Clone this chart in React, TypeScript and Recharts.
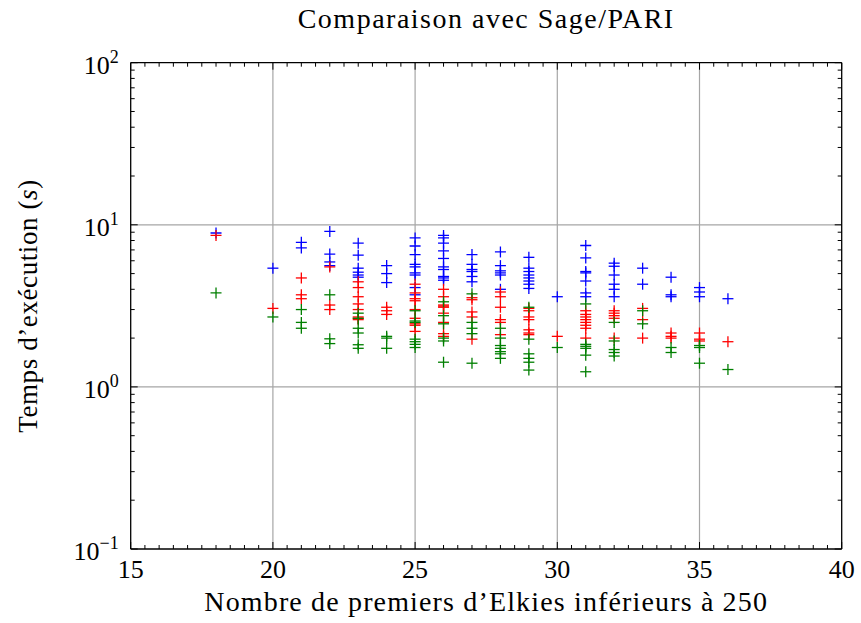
import { ReferenceLine, Scatter, ScatterChart, XAxis, YAxis } from "recharts";

// runs grouped by number of Elkies primes: [x, times...]
const blueRuns: [number, number[]][] = [
  [18, [8.9]],
  [20, [5.4]],
  [21, [7.8, 7.2]],
  [22, [9.1, 6.6, 5.9, 5.6]],
  [23, [7.7, 6.5, 5.4, 5.1, 4.9, 4.75]],
  [24, [5.6, 5.0, 4.4]],
  [25, [8.3, 7.4, 6.55, 5.7, 5.5, 5.05, 4.9, 4.1, 3.7]],
  [26, [8.6, 8.3, 7.7, 6.9, 6.2, 5.5, 5.3, 4.8, 4.7, 4.55]],
  [27, [6.55, 5.7, 5.3, 5.15, 4.8, 4.45]],
  [28, [6.8, 5.6, 5.2, 5.05, 4.9, 4.0]],
  [29, [6.3, 5.4, 5.15, 4.9, 4.7, 4.5, 4.3, 4.05]],
  [30, [3.6]],
  [31, [7.45, 6.25, 5.15, 5.05, 4.5, 3.8, 3.6]],
  [32, [5.8, 5.55, 4.9, 4.3, 4.0, 3.6]],
  [33, [5.4, 4.3]],
  [34, [4.75, 3.7, 3.6]],
  [35, [4.1, 3.85, 3.6]],
  [36, [3.5]],
];

const redRuns: [number, number[]][] = [
  [18, [8.6]],
  [20, [3.05]],
  [21, [4.7, 3.7, 3.5]],
  [22, [5.5, 3.2, 3.0]],
  [23, [4.45, 4.1, 3.6, 3.25, 3.0, 2.7, 2.65, 2.6]],
  [24, [3.1, 2.95, 2.8]],
  [25, [4.3, 3.8, 3.5, 3.4, 3.0, 2.65, 2.45, 2.4, 2.2]],
  [26, [4.0, 3.6, 3.2, 3.15, 3.1, 2.85, 2.5, 2.13, 2.05]],
  [27, [3.55, 3.45, 2.9, 2.7, 1.97]],
  [28, [3.85, 3.6, 3.1, 2.6, 2.5, 2.1]],
  [29, [3.05, 2.95, 2.7, 2.6, 2.25, 2.15, 2.1]],
  [30, [2.05]],
  [31, [2.95, 2.8, 2.7, 2.6, 2.5, 2.4, 2.3, 2.0]],
  [32, [2.95, 2.85, 2.75, 2.65, 2.0]],
  [33, [3.05, 2.6, 2.0]],
  [34, [2.15, 2.05, 2.0]],
  [35, [2.15, 1.97, 1.92]],
  [36, [1.9]],
];

const greenRuns: [number, number[]][] = [
  [18, [3.8]],
  [20, [2.7]],
  [21, [3.0, 2.5, 2.3]],
  [22, [3.7, 1.98, 1.85]],
  [23, [2.85, 2.65, 2.3, 2.15, 1.82, 1.73]],
  [24, [2.05, 2.0, 1.73]],
  [25, [2.95, 2.55, 2.5, 1.97, 1.9, 1.83, 1.75]],
  [26, [3.35, 2.75, 2.45, 2.0, 1.92, 1.42]],
  [27, [3.75, 2.5, 2.3, 2.13, 1.4]],
  [28, [2.3, 2.0, 1.8, 1.73, 1.65, 1.6, 1.5]],
  [29, [3.1, 1.97, 1.6, 1.5, 1.42, 1.27]],
  [30, [1.75]],
  [31, [3.25, 1.83, 1.78, 1.73, 1.57, 1.24]],
  [32, [2.5, 1.92, 1.7, 1.63, 1.55]],
  [33, [2.95, 2.45]],
  [34, [1.75, 1.63]],
  [35, [1.8, 1.75, 1.4]],
  [36, [1.28]],
];

const xTickLabels = [15, 20, 25, 30, 35, 40];
const yExponents = [-1, 0, 1, 2];

const FONT = "'Liberation Serif', 'Times New Roman', serif";

const flatten = (runs: [number, number[]][]) =>
  runs.flatMap(([x, ys]) => ys.map((y) => ({ x, y })));

const xMajor = xTickLabels;
const xAll: number[] = [];
for (let v = 15; v <= 40; v += 0.5) xAll.push(v);

const yMajor = yExponents.map((e) => Math.pow(10, e));
const yAll: number[] = [];
yExponents.forEach((e, i) => {
  if (i === yExponents.length - 1) {
    yAll.push(Math.pow(10, e));
    return;
  }
  for (let k = 1; k <= 9; k++) yAll.push(k * Math.pow(10, e));
});

const isXMajor = (v: number) => xMajor.includes(v);
const isYMajor = (v: number) =>
  yMajor.some((m) => Math.abs(m - v) / m < 1e-9);

function Plus(color: string) {
  return (props: any) => {
    const { cx, cy } = props;
    return (
      <g stroke={color} strokeWidth={1.3}>
        <line x1={cx - 5.5} x2={cx + 5.5} y1={cy} y2={cy} />
        <line x1={cx} x2={cx} y1={cy - 5.5} y2={cy + 5.5} />
      </g>
    );
  };
}

const labelStyle = { fontFamily: FONT, fontSize: 26 };

function BottomTick({ x, y, payload }: any) {
  const v = payload.value;
  const major = isXMajor(v);
  return (
    <g>
      <line x1={x} x2={x} y1={y} y2={y - (major ? 7 : 4)} stroke="#000" />
      {major && (
        <text
          x={x}
          y={y + 29}
          textAnchor="middle"
          style={labelStyle}
          fill="#000"
        >
          {v}
        </text>
      )}
    </g>
  );
}

function TopTick({ x, y, payload }: any) {
  const major = isXMajor(payload.value);
  return <line x1={x} x2={x} y1={y} y2={y + (major ? 7 : 4)} stroke="#000" />;
}

function LeftTick({ x, y, payload }: any) {
  const v = payload.value;
  const major = isYMajor(v);
  const exp = Math.round(Math.log10(v));
  return (
    <g>
      <line x1={x} x2={x + (major ? 7 : 4)} y1={y} y2={y} stroke="#000" />
      {major && (
        <text
          x={x - 12}
          y={y + 11}
          textAnchor="end"
          style={labelStyle}
          fill="#000"
        >
          <tspan>10</tspan>
          <tspan dy={-11} style={{ fontSize: 18 }}>
            {exp < 0 ? `\u2212${-exp}` : exp}
          </tspan>
        </text>
      )}
    </g>
  );
}

function RightTick({ x, y, payload }: any) {
  const major = isYMajor(payload.value);
  return <line x1={x} x2={x - (major ? 7 : 4)} y1={y} y2={y} stroke="#000" />;
}

export default function App() {
  const blue = flatten(blueRuns);
  const red = flatten(redRuns);
  const green = flatten(greenRuns);

  return (
    <div
      style={{
        position: "relative",
        width: 861,
        height: 623,
        background: "#fff",
        fontFamily: FONT,
      }}
    >
      <style>{"body{margin:0}"}</style>
      <ScatterChart
        width={861}
        height={623}
        margin={{ top: 61.7, right: 18.3, bottom: 73, left: 129.7 }}
        style={{ fontFamily: FONT }}
      >
        <XAxis
          xAxisId="b"
          type="number"
          dataKey="x"
          domain={[15, 40]}
          ticks={xAll}
          interval={0}
          height={1}
          tickSize={0}
          tickMargin={0}
          tick={<BottomTick />}
          axisLine={{ stroke: "#000", strokeWidth: 1.3 }}
          allowDataOverflow
        />
        <XAxis
          xAxisId="t"
          orientation="top"
          type="number"
          dataKey="x"
          domain={[15, 40]}
          ticks={xAll}
          interval={0}
          height={1}
          tickSize={0}
          tickMargin={0}
          tick={<TopTick />}
          axisLine={{ stroke: "#000", strokeWidth: 1.3 }}
          allowDataOverflow
        />
        <YAxis
          yAxisId="l"
          type="number"
          dataKey="y"
          scale="log"
          domain={[0.1, 100]}
          ticks={yAll}
          interval={0}
          width={1}
          tickSize={0}
          tickMargin={0}
          tick={<LeftTick />}
          axisLine={{ stroke: "#000", strokeWidth: 1.3 }}
          allowDataOverflow
        />
        <YAxis
          yAxisId="r"
          orientation="right"
          type="number"
          dataKey="y"
          scale="log"
          domain={[0.1, 100]}
          ticks={yAll}
          interval={0}
          width={1}
          tickSize={0}
          tickMargin={0}
          tick={<RightTick />}
          axisLine={{ stroke: "#000", strokeWidth: 1.3 }}
          allowDataOverflow
        />
        {xMajor.slice(1, -1).map((v) => (
          <ReferenceLine
            key={`gx${v}`}
            x={v}
            xAxisId="b"
            yAxisId="l"
            stroke="#a6a6a6"
            strokeWidth={1.2}
          />
        ))}
        {yMajor.slice(1, -1).map((v) => (
          <ReferenceLine
            key={`gy${v}`}
            y={v}
            xAxisId="b"
            yAxisId="l"
            stroke="#a6a6a6"
            strokeWidth={1.2}
          />
        ))}
        <Scatter
          data={blue}
          xAxisId="b"
          yAxisId="l"
          shape={Plus("#0000ff")}
          isAnimationActive={false}
        />
        <Scatter
          data={red}
          xAxisId="b"
          yAxisId="l"
          shape={Plus("#ff0000")}
          isAnimationActive={false}
        />
        <Scatter
          data={green}
          xAxisId="b"
          yAxisId="l"
          shape={Plus("#007f00")}
          isAnimationActive={false}
        />
      </ScatterChart>
      <div
        style={{
          position: "absolute",
          left: 130.7,
          width: 711,
          top: 3,
          textAlign: "center",
          fontSize: 28,
          letterSpacing: 1.5,
        }}
      >
        Comparaison avec Sage/PARI
      </div>
      <div
        style={{
          position: "absolute",
          left: 130.7,
          width: 711,
          top: 586,
          textAlign: "center",
          fontSize: 28,
          letterSpacing: 1.15,
          whiteSpace: "nowrap",
        }}
      >
        Nombre de premiers d’Elkies inférieurs à 250
      </div>
      <div
        style={{
          position: "absolute",
          left: 28,
          top: 306,
          transform: "translate(-50%, -50%) rotate(-90deg)",
          fontSize: 27,
          letterSpacing: 0.6,
          whiteSpace: "nowrap",
        }}
      >
        Temps d’exécution (<i>s</i>)
      </div>
    </div>
  );
}
